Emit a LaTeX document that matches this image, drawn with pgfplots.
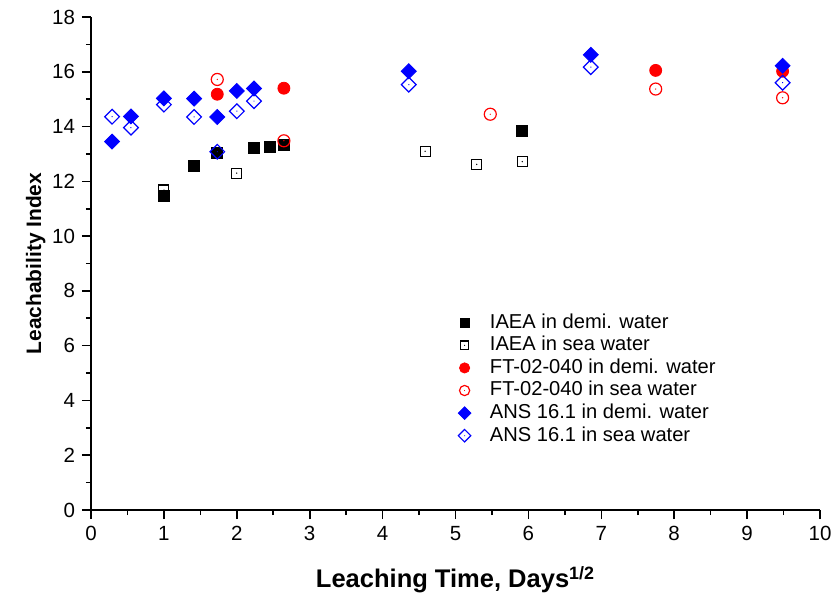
\documentclass[border=0pt]{standalone}
\usepackage{fontspec}
\setmainfont{Liberation Sans}
\usepackage{pgfplots}
\pgfplotsset{compat=1.18}

% open marks with a small dot in the middle
\pgfdeclareplotmark{osq}{%
  \pgfpathrectangle{\pgfqpoint{-\pgfplotmarksize}{-\pgfplotmarksize}}{\pgfqpoint{2\pgfplotmarksize}{2\pgfplotmarksize}}%
  \pgfusepathqstroke
  \pgfpathcircle{\pgfpointorigin}{0.35bp}\pgfusepathqfill}
\pgfdeclareplotmark{ocirc}{%
  \pgfpathcircle{\pgfpointorigin}{\pgfplotmarksize}\pgfusepathqstroke
  \pgfpathcircle{\pgfpointorigin}{0.35bp}\pgfusepathqfill}

\begin{document}
\begin{tikzpicture}
\begin{axis}[
    name=ax,
    width=364.5bp, height=246.5bp, scale only axis,
    xmin=0, xmax=10, ymin=0, ymax=18,
    axis lines=left,
    axis line style={-, line width=1bp},
    xtick={0,1,...,10}, ytick={0,2,...,18},
    minor x tick num=1, minor y tick num=1,
    tick align=outside,
    major tick length=4.5bp, minor tick length=2.5bp,
    every tick/.style={black, line width=0.8bp},
    tick label style={font=\fontsize{10.3}{12}\selectfont},
    /pgf/number format/assume math mode=true,
    xlabel={\textbf{Leaching Time, Days\textsuperscript{1/2}}},
    xlabel style={font=\fontsize{12.8}{15}\selectfont, yshift=-6bp},
    ylabel={\textbf{Leachability Index}},
    ylabel style={font=\fontsize{10.5}{12}\selectfont, yshift=-3.5bp},
    clip=false,
    legend cell align=left,
    legend image post style={every mark/.append style={scale=0.85}},
    legend style={draw=none, fill=none, at={(axis cs:4.95,7.41)}, anchor=north west,
        font=\fontsize{10.1}{11.3}\selectfont,
        nodes={inner sep=1bp, text height=7.3bp, text depth=2bp},
        row sep=0pt, column sep=8.5bp},
]
\addplot[only marks, mark=square*, black, mark size=2.75bp] coordinates {
  (1.000,11.45) (1.414,12.55) (1.732,13.02) (2.236,13.23) (2.449,13.25) (2.646,13.32) (5.916,13.85)
};
\addlegendentry{IAEA in demi. water}
\addplot[only marks, mark=osq, black, fill=black, mark size=2.5bp, line width=0.6bp] coordinates {
  (1.000,11.68) (2.000,12.30) (4.583,13.10) (5.292,12.62) (5.916,12.72)
};
\addlegendentry{IAEA in sea water}
\addplot[only marks, mark=*, red, mark size=3bp] coordinates {
  (1.732,15.18) (2.646,15.40) (7.746,16.05) (9.487,16.02)
};
\addlegendentry{FT-02-040 in demi. water}
\addplot[only marks, mark=ocirc, red, fill=red, mark size=3bp, line width=0.6bp] coordinates {
  (1.732,15.72) (2.646,13.48) (5.477,14.45) (7.746,15.37) (9.487,15.05)
};
\addlegendentry{FT-02-040 in sea water}
\addplot[only marks, mark=square*, blue, mark size=2.65bp, mark options={rotate=45}] coordinates {
  (0.289,13.45) (0.548,14.37) (1.000,15.03) (1.414,15.02) (1.732,14.35) (2.000,15.30) (2.236,15.39) (4.359,16.02) (6.856,16.62) (9.487,16.22)
};
\addlegendentry{ANS 16.1 in demi. water}
\addplot[only marks, mark=osq, blue, fill=blue, mark size=2.6bp, line width=0.6bp, mark options={rotate=45}] coordinates {
  (0.289,14.36) (0.548,13.96) (1.000,14.80) (1.414,14.35) (1.732,13.08) (2.000,14.56) (2.236,14.93) (4.359,15.53) (6.856,16.17) (9.487,15.60)
};
\addlegendentry{ANS 16.1 in sea water}
\end{axis}
\pgfresetboundingbox
\path[use as bounding box] ([xshift=-45.5bp,yshift=-44.5bp]ax.south west) rectangle ([xshift=7bp,yshift=8.5bp]ax.north east);
\end{tikzpicture}
\end{document}
